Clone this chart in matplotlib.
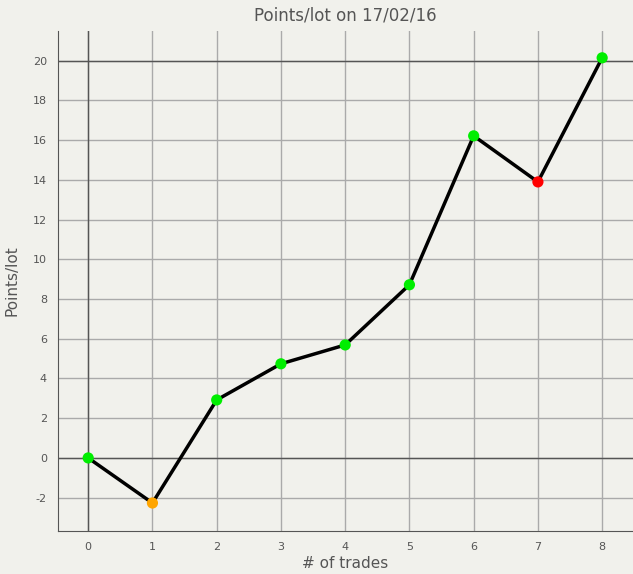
import matplotlib
matplotlib.use("Agg")
import matplotlib.pyplot as plt

plt.rcParams["axes.unicode_minus"] = False

# données
trades = [0, 1, 2, 3, 4, 5, 6, 7, 8]
points = [0, -2.27, 2.92, 4.74, 5.69, 8.72, 16.22, 13.9, 20.15]
couleurs = ["#00ee00", "#ffa500", "#00ee00", "#00ee00", "#00ee00",
            "#00ee00", "#00ee00", "#ff0000", "#00ee00"]
yticks = [-2, 0, 2, 4, 6, 8, 10, 12, 14, 16, 18, 20]

fond = "#f1f1ec"
gris = "#555555"
fig = plt.figure(figsize=(6.33, 5.74), dpi=100, facecolor=fond)
ax = fig.add_axes([58 / 633, 1 - 531 / 574, 575 / 633, 500 / 574], facecolor=fond)

ax.set_xlim(-0.47, 8.48)
ax.set_ylim(-3.68, 21.5)

ax.set_xticks(trades)
ax.set_yticks(yticks)
ax.grid(True, color="#aaaaaa", linewidth=1)
ax.set_axisbelow(True)
ax.axhline(0, color=gris, linewidth=1, zorder=1)
ax.axhline(20, color=gris, linewidth=1, zorder=1)
ax.axvline(0, color=gris, linewidth=1, zorder=1)

ax.plot(trades, points, color="black", linewidth=2.5, zorder=2)
ax.scatter(trades, points, c=couleurs, s=65, zorder=3, linewidths=0)

for s in ["top", "right"]:
    ax.spines[s].set_visible(False)
for s in ["left", "bottom"]:
    ax.spines[s].set_color(gris)
ax.tick_params(length=0, labelsize=8, colors=gris, pad=8)

# titres placés à la main
fig.text(345 / 633, 1 - 16 / 574, "Points/lot on 17/02/16", fontsize=12,
         color=gris, ha="center", va="center")
fig.text(345 / 633, 1 - 564 / 574, "# of trades", fontsize=11,
         color=gris, ha="center", va="center")
fig.text(12 / 633, 1 - 281 / 574, "Points/lot", fontsize=11,
         color=gris, ha="center", va="center", rotation=90)

fig.savefig("out.png", dpi=100, facecolor=fond)
